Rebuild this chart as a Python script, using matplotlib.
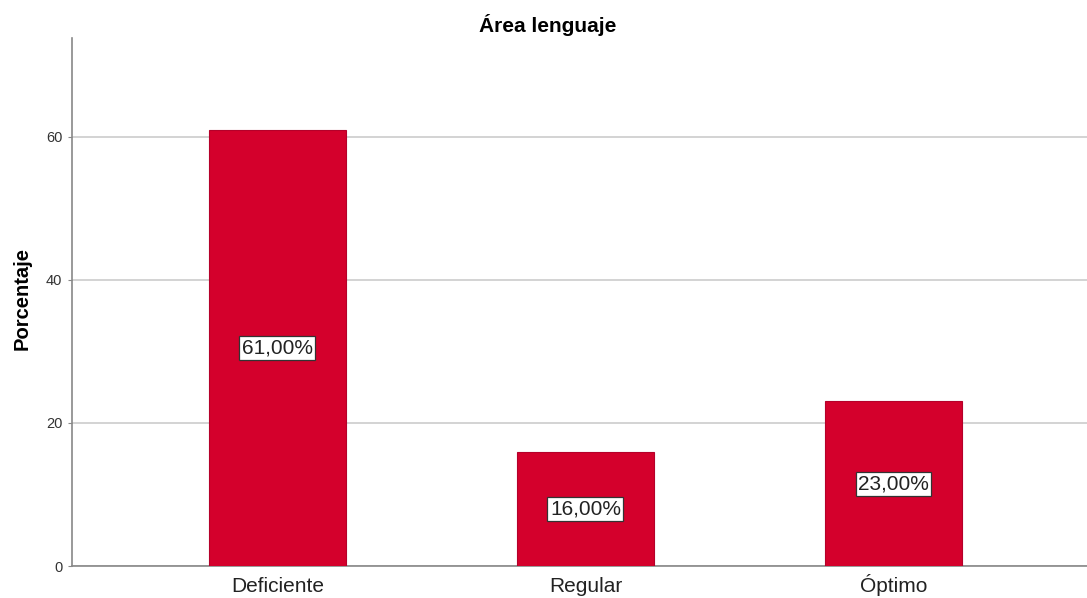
import matplotlib
matplotlib.use("Agg")
from matplotlib import pyplot as plt

categories = ["Deficiente", "Regular", "Óptimo"]
percent = [61.0, 16.0, 23.0]
yticks = [0, 20, 40, 60]

plt.rcParams["font.family"] = ["Liberation Sans", "DejaVu Sans"]
plt.rcParams["hatch.color"] = "#a8002a"
plt.rcParams["hatch.linewidth"] = 0.6

fig = plt.figure(figsize=(10.87, 5.98), dpi=100)
ax = fig.add_axes([0.0662, 0.0535, 0.9338, 0.883])

x = list(range(len(categories)))
bars = ax.bar(x, percent, width=0.445, color="#d4002c", edgecolor="#b5002a",
              linewidth=0.8, hatch="::", zorder=3)

for xi, v in zip(x, percent):
    ax.text(xi, v / 2, f"{v:.2f}%".replace(".", ","), ha="center", va="center",
            fontsize=15, color="#222222", zorder=4,
            bbox=dict(boxstyle="square,pad=0.12", facecolor="white",
                      edgecolor="#333333", linewidth=0.9))

ax.set_xlim(-0.667, 2.628)
ax.set_ylim(0, 73.8)
ax.set_yticks(yticks)
ax.set_yticklabels([str(t) for t in yticks], fontsize=10.5, color="#333333")
ax.set_xticks(x)
ax.set_xticklabels(categories, fontsize=15, color="#222222")
for lbl in ax.get_xticklabels():
    lbl.set_verticalalignment("baseline")
ax.tick_params(axis="x", length=0, pad=19)
ax.tick_params(axis="y", length=3, color="#888888", pad=4)
ax.grid(axis="y", color="#cccccc", linewidth=1.2, zorder=0)

for s in ["top", "right"]:
    ax.spines[s].set_visible(False)
for s in ["left", "bottom"]:
    ax.spines[s].set_color("#888888")
    ax.spines[s].set_linewidth(1.2)

ax.set_ylabel("Porcentaje", fontsize=14.5, fontweight="bold")
ax.yaxis.set_label_coords(-0.0394, 0.506)
fig.text(0.5037, 0.958, "Área lenguaje", fontsize=15, fontweight="bold",
         ha="center", va="center")

fig.savefig("out.png", dpi=100)
